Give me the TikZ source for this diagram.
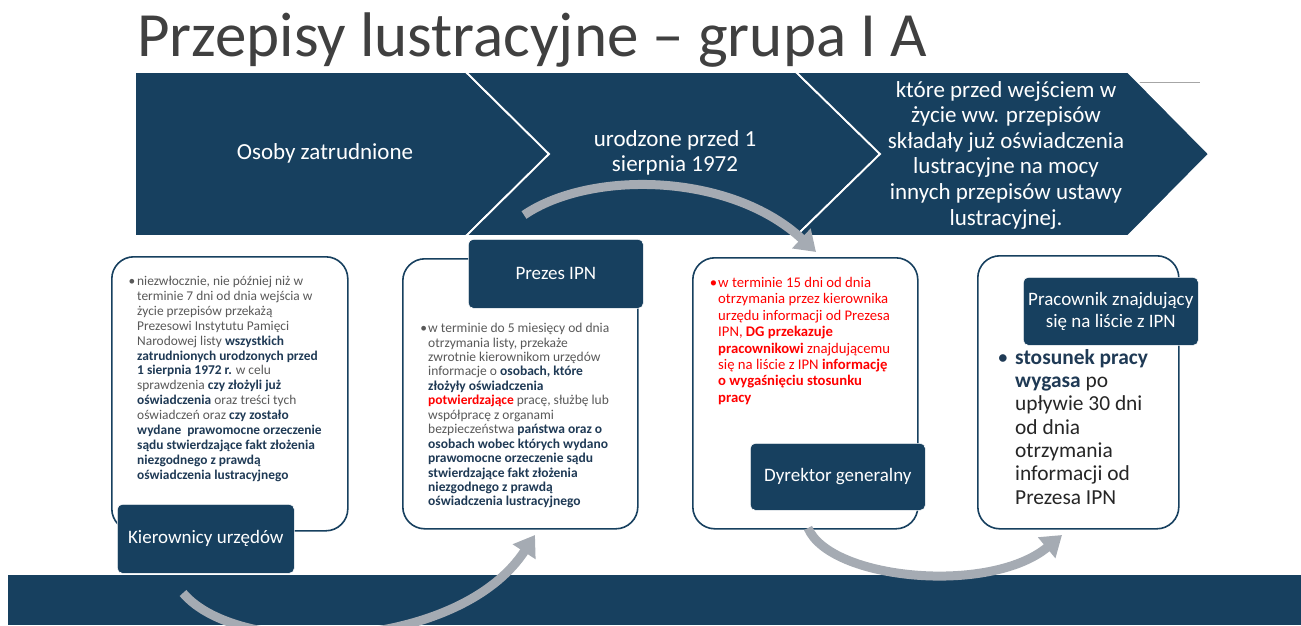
\documentclass[tikz,border=0pt]{standalone}
\usepackage{fontspec}
\setmainfont{Carlito}
\usetikzlibrary{arrows.meta}
\definecolor{navy}{HTML}{17405F}
\definecolor{arcgray}{HTML}{A5ABB3}
\definecolor{txtgray}{HTML}{595959}
\definecolor{boldnavy}{HTML}{1F3A55}
\definecolor{redtxt}{HTML}{FF0000}
\definecolor{titlegray}{HTML}{404040}
\definecolor{darktxt}{HTML}{262626}
\newcommand\bnv[1]{{\bfseries\color{boldnavy}#1}}
\newcommand\brd[1]{{\bfseries\color{redtxt}#1}}
\begin{document}
\begin{tikzpicture}[x=1pt,y=-1pt,
  chev/.style={fill=navy, draw=white, line width=1.8pt, line join=miter},
  chevtext/.style={text=white, font=\fontsize{23}{25.6}\selectfont, align=center, inner sep=0},
  card/.style={draw=navy, line width=1.6pt, fill=white, rounded corners=22pt, anchor=north west, inner sep=0},
  tag/.style={fill=navy, draw=white, line width=0.6pt, rounded corners=5pt, text=white,
    font=\fontsize{19}{22}\selectfont, align=center, inner sep=0, anchor=north west},
  flow/.style={arcgray, line width=9pt, -{Triangle[width=26pt,length=20pt]}},
  small/.style={anchor=north west, inner sep=0, align=left, font=\fontsize{13.4}{14.9}\selectfont}
]
\useasboundingbox (0,0) rectangle (1301,625);
\fill[white] (0,0) rectangle (1301,625);

% title
\node[anchor=base west, inner sep=0, text=titlegray, font=\fontsize{63}{70}\selectfont] (title) at (137,56) {Przepisy lustracyjne – grupa I A};
\draw[gray!70, line width=0.8pt] (135,82) -- (1200,82);

% chevrons
\draw[chev] (135,72) -- (466,72) -- (549,154) -- (466,236) -- (135,236) -- cycle;
\draw[chev] (466,72) -- (796,72) -- (880,154) -- (796,236) -- (466,236) -- (549,154) -- cycle;
\draw[chev] (796,72) -- (1128,72) -- (1209,154) -- (1128,236) -- (796,236) -- (880,154) -- cycle;
\node[chevtext] (c1) at (325,153) {Osoby zatrudnione};
\node[chevtext] (c2) at (675,153) {urodzone przed 1\\sierpnia 1972};
\node[chevtext] (c3) at (1006,155) {które przed wejściem w\\życie ww. przepisów\\składały już oświadczenia\\lustracyjne na mocy\\innych przepisów ustawy\\lustracyjnej.};

% cards
\node[card, minimum width=236pt, minimum height=274pt] (b1) at (111,256) {};
\node[card, minimum width=235pt, minimum height=270pt] (b2) at (402,258) {};
\node[card, minimum width=225pt, minimum height=271pt] (b3) at (692,257) {};
\node[card, minimum width=201pt, minimum height=273pt] (b4) at (977,255) {};

% card texts
\node[small, text=txtgray] (t1) at (137,276) {\llap{•\hspace{2pt}}niezwłocznie, nie później niż w\\
terminie 7 dni od dnia wejścia w\\
życie przepisów przekażą\\
Prezesowi Instytutu Pamięci\\
Narodowej listy \bnv{wszystkich}\\
\bnv{zatrudnionych urodzonych przed}\\
\bnv{1 sierpnia 1972 r.} w celu\\
sprawdzenia \bnv{czy złożyli już}\\
\bnv{oświadczenia} oraz treści tych\\
oświadczeń oraz \bnv{czy zostało}\\
\bnv{wydane\ \ prawomocne orzeczenie}\\
\bnv{sądu stwierdzające fakt złożenia}\\
\bnv{niezgodnego z prawdą}\\
\bnv{oświadczenia lustracyjnego}};

\node[small, text=txtgray, font=\fontsize{13.5}{14.45}\selectfont] (t2) at (428,323) {\llap{•\hspace{1pt}}w terminie do 5 miesięcy od dnia\\
otrzymania listy, przekaże\\
zwrotnie kierownikom urzędów\\
informacje o \bnv{osobach, które}\\
\bnv{złożyły oświadczenia}\\
\brd{potwierdzające} pracę, służbę lub\\
współpracę z organami\\
bezpieczeństwa \bnv{państwa oraz o}\\
\bnv{osobach wobec których wydano}\\
\bnv{prawomocne orzeczenie sądu}\\
\bnv{stwierdzające fakt złożenia}\\
\bnv{niezgodnego z prawdą}\\
\bnv{oświadczenia lustracyjnego}};

\node[small, text=redtxt, font=\fontsize{14.7}{16.4}\selectfont] (t3) at (718,277) {\llap{•\hspace{1pt}}w terminie 15 dni od dnia\\
otrzymania przez kierownika\\
urzędu informacji od Prezesa\\
IPN, \brd{DG przekazuje}\\
\brd{pracownikowi} znajdującemu\\
się na liście z IPN \brd{informację}\\
\brd{o wygaśnięciu stosunku}\\
\brd{pracy}};

\node[small, text=darktxt, font=\fontsize{21.4}{23.3}\selectfont] (t4) at (1015,349) {\llap{{\color{boldnavy}•}\hspace{7pt}}\bnv{stosunek pracy}\\
\bnv{wygasa} po\\
upływie 30 dni\\
od dnia\\
otrzymania\\
informacji od\\
Prezesa IPN};

% tags
\node[tag, minimum width=177pt, minimum height=69pt] (l1) at (117,504) {Kierownicy urzędów};
\node[tag, minimum width=175pt, minimum height=69pt] (l2) at (468,239) {Prezes IPN};
\node[tag, minimum width=175pt, minimum height=67pt] (l3) at (750,443) {Dyrektor generalny};
\node[tag, minimum width=175pt, minimum height=68pt] (l4) at (1023,277) {Pracownik znajdujący\\się na liście z IPN};

% bottom band
\fill[navy] (8,575) rectangle (1301,625);

% arcs
\coordinate (a1s) at (524,215);
\coordinate (a1e) at (816,252);
\coordinate (a2s) at (183,593);
\coordinate (a2e) at (535,535);
\coordinate (a3s) at (808,528);
\coordinate (a3e) at (1062,535);
\draw[flow] (a1s) .. controls (590,170) and (730,172) .. (a1e);
\draw[flow] (a2s) .. controls (240,660) and (460,650) .. (a2e);
\draw[flow] (a3s) .. controls (830,580) and (990,595) .. (a3e);
\end{tikzpicture}
\end{document}
